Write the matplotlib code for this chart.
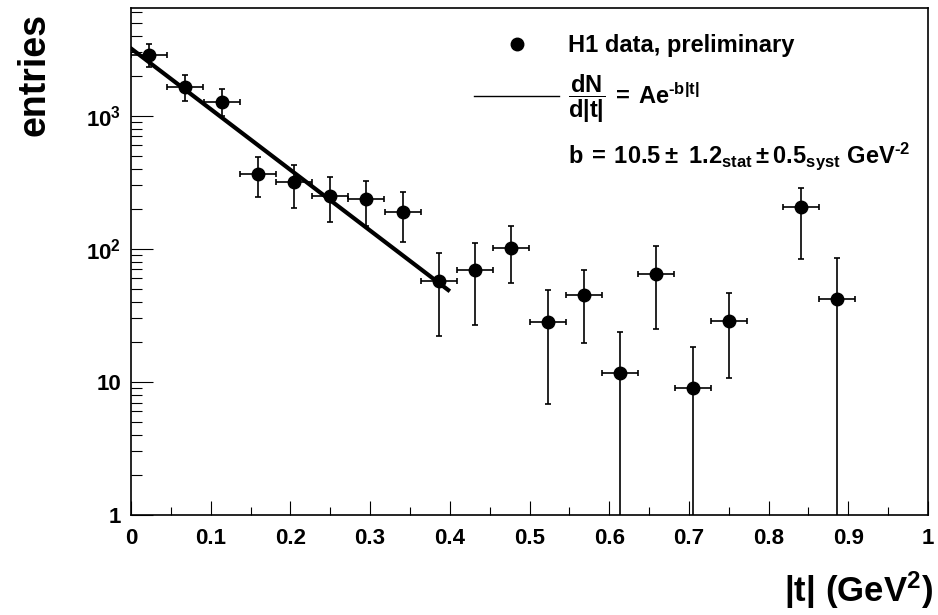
import numpy as np
import matplotlib
matplotlib.use('Agg')
import matplotlib.pyplot as plt
from matplotlib.lines import Line2D
from matplotlib.ticker import FixedLocator, FuncFormatter, LogLocator, NullFormatter

plt.rcParams['font.family'] = ['Liberation Sans', 'DejaVu Sans']
plt.rcParams['font.weight'] = 'bold'
plt.rcParams['mathtext.fontset'] = 'custom'
plt.rcParams['mathtext.rm'] = 'Liberation Sans:bold'
plt.rcParams['mathtext.it'] = 'Liberation Sans:bold'
plt.rcParams['mathtext.bf'] = 'Liberation Sans:bold'

# |t| bin centres and half widths (GeV^2)
t_center = [0.023, 0.068, 0.114, 0.159, 0.205, 0.250, 0.295, 0.341, 0.386, 0.432,
            0.477, 0.523, 0.568, 0.614, 0.659, 0.705, 0.750, 0.841, 0.886]
t_halfwidth = [0.0227] * len(t_center)

# entries and errors
entries = [2880, 1650, 1270, 367, 316, 251, 236, 188, 57.7, 68.9,
           102, 28.0, 44.7, 11.6, 65.0, 9.0, 28.6, 206, 42.2]
err_low = [556, 356, 270, 124, 112, 92, 88, 76, 35.7, 42.3,
           46.3, 21.2, 25.1, 12.1, 40.2, 9.4, 17.9, 122, 43.1]
err_high = [567, 370, 304, 123, 111, 94, 86, 77, 35.3, 41.1,
            46.0, 20.7, 24.2, 12.1, 40.0, 9.4, 17.7, 78, 43.1]

# exponential fit dN/d|t| = A exp(-b|t|)
fit_A = 3200
fit_b = 10.5
fit_range = [0.0, 0.398]

fig = plt.figure(figsize=(9.38, 6.15), dpi=100)
ax = fig.add_axes([131 / 938, 1 - 515 / 615, 797 / 938, 507.5 / 615])

ax.set_yscale('log', nonpositive='clip')
ax.errorbar(t_center, entries, xerr=t_halfwidth, yerr=[err_low, err_high],
            fmt='o', color='black', ms=9, elinewidth=1.2, capsize=2.2,
            capthick=1.2, zorder=3)

tf = np.linspace(fit_range[0], fit_range[1], 100)
ax.plot(tf, fit_A * np.exp(-fit_b * tf), color='black', lw=3, zorder=2)

ax.set_xlim(0, 1)
ax.set_ylim(1, 6500)

for s in ax.spines.values():
    s.set_linewidth(1.2)

ax.xaxis.set_major_locator(FixedLocator(np.arange(0, 1.01, 0.1)))
ax.xaxis.set_minor_locator(FixedLocator(np.arange(0.05, 1.0, 0.1)))
ax.xaxis.set_major_formatter(FuncFormatter(lambda v, p: '%g' % round(v, 2)))
ax.yaxis.set_major_locator(FixedLocator([1, 10, 100, 1000]))
ax.yaxis.set_minor_locator(LogLocator(base=10, subs=np.arange(2, 10)))
ax.yaxis.set_minor_formatter(NullFormatter())
ylabels = {1: '1', 10: '10', 100: r'$\mathregular{10^{2}}$', 1000: r'$\mathregular{10^{3}}$'}
ax.yaxis.set_major_formatter(FuncFormatter(lambda v, p: ylabels.get(int(round(v)), '')))

ax.tick_params(axis='x', which='major', direction='in', length=10, width=0.8,
               labelsize=16, pad=9, top=False)
ax.tick_params(axis='x', which='minor', direction='in', length=5.5, width=0.8, top=False)
ax.tick_params(axis='y', which='major', direction='in', length=16, width=0.8,
               labelsize=16, pad=7, right=False)
ax.tick_params(axis='y', which='minor', direction='in', length=8, width=0.8, right=False)

fig.text(933 / 938, 1 - 590 / 615, r'$\mathregular{|t|\ (GeV^{2})}$', fontsize=25,
         ha='right', va='center')
fig.text(35 / 938, 1 - 13 / 615, 'entries', fontsize=27, rotation=90,
         ha='center', va='top')

handles = [Line2D([], [], marker='o', ls='none', color='black', ms=9),
           Line2D([], [], color='black', lw=1),
           Line2D([], [], ls='none')]
labels = ['H1 data, preliminary',
          r'$\mathregular{\dfrac{dN}{d|t|}\:=\:Ae^{‐b|t|}}$',
          r'$\mathregular{b\:=\:10.5\pm\ 1.2_{stat}\pm0.5_{syst}\ GeV^{‐2}}$']
leg = ax.legend(handles, labels, loc='upper left', bbox_to_anchor=(474 / 938, 1 - 34 / 615),
                bbox_transform=fig.transFigure, frameon=False, fontsize=17,
                handlelength=3.6, handletextpad=0.4, labelspacing=0.65,
                borderpad=0, borderaxespad=0)

fig.savefig('out.png', dpi=100)
